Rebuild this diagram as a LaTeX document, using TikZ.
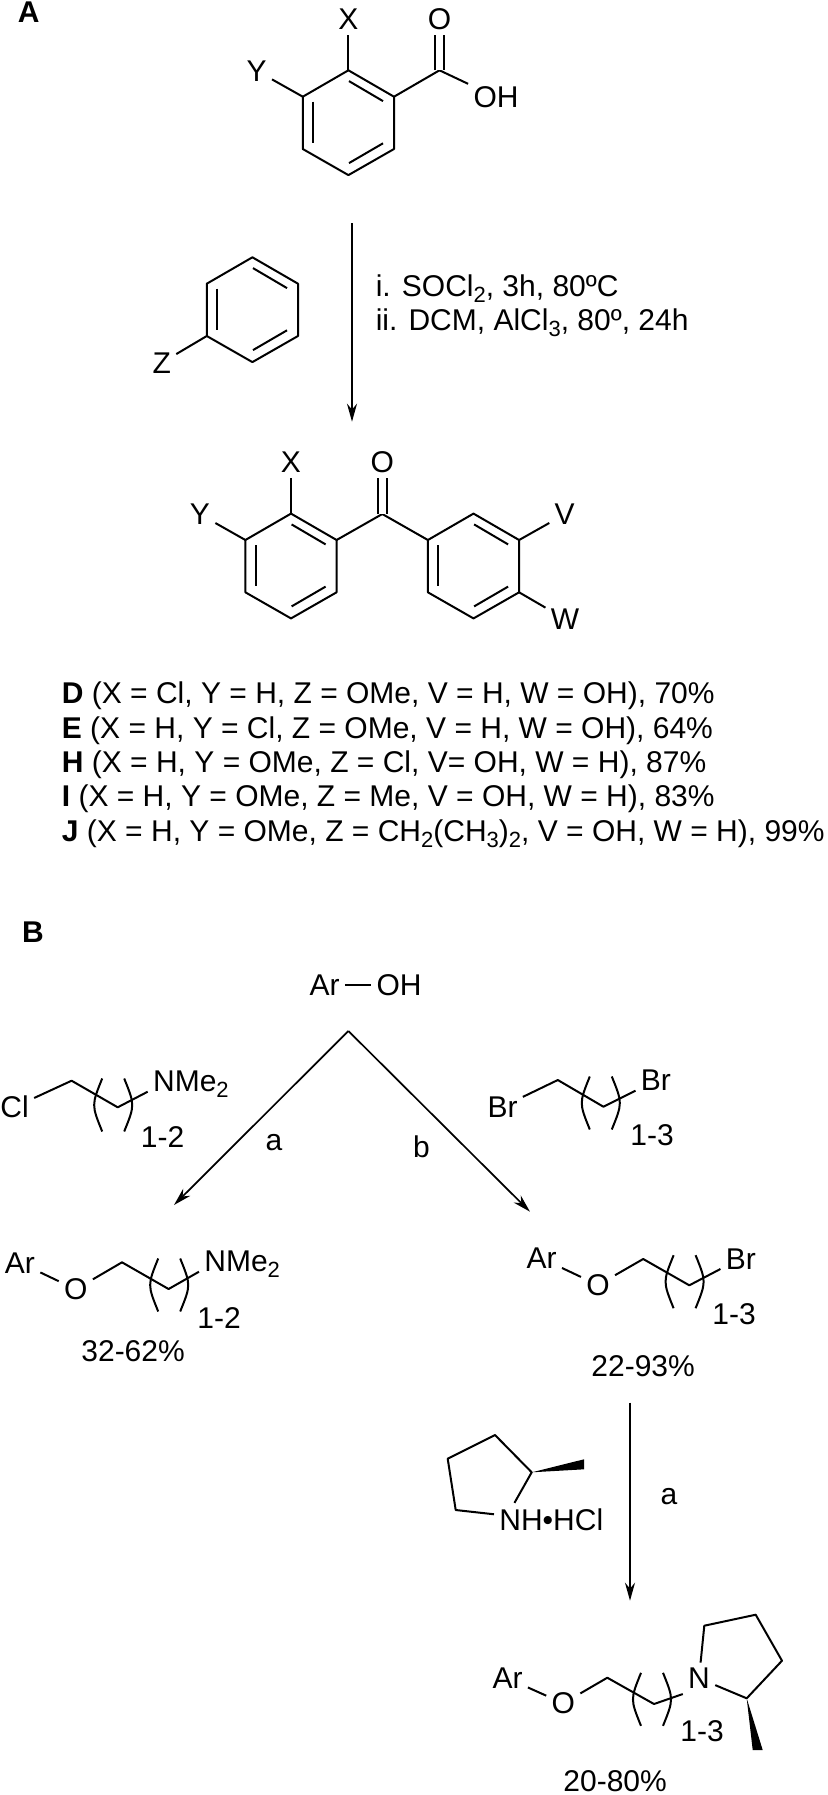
\documentclass[tikz,border=0pt]{standalone}
\usepackage{fontspec}
\setmainfont{Liberation Sans}
\usetikzlibrary{arrows.meta}
\newcommand{\chemsub}[1]{\raisebox{-3pt}{\fontsize{11}{11}\selectfont #1}}
\newcommand{\benzene}[3]{
\begin{scope}[shift={(#2,#3)}]
\coordinate (#1t) at (0,-52.4);
\coordinate (#1ru) at (45.6,-26);
\coordinate (#1rd) at (45.6,26.3);
\coordinate (#1b) at (0,52.4);
\coordinate (#1ld) at (-45.6,26.3);
\coordinate (#1lu) at (-45.6,-26);
\draw[bond] (#1t) -- (#1ru) -- (#1rd) -- (#1b) -- (#1ld) -- (#1lu) -- cycle;
\draw[bond] (0.6,-41.6) -- (34.6,-21.6);
\draw[bond] (34.6,20.6) -- (0.6,40.4);
\draw[bond] (-35.2,-21) -- (-35.2,20);
\end{scope}}
\newcommand{\repeatunit}[2]{
\begin{scope}[shift={(#1,#2)}]
\draw[bond] (-11,-26.5) .. controls (-21.7,0) .. (-11,26.5);
\draw[bond] (11,-26.5) .. controls (21.7,0) .. (11,26.5);
\end{scope}}

\begin{document}
\begin{tikzpicture}[
  x=0.5pt, y=-0.5pt,
  lbl/.style={inner sep=2.5pt, font=\fontsize{15}{18}\selectfont},
  sidelbl/.style={lbl, anchor=base west},
  txt/.style={inner sep=0pt, anchor=base west, font=\fontsize{15}{18}\selectfont},
  panel/.style={inner sep=0pt, font=\fontsize{15}{18}\selectfont\bfseries},
  bond/.style={line width=1pt, line join=round},
  rxn/.style={line width=0.85pt, -{Stealth[length=9pt, width=5pt]}}
]
\useasboundingbox (0,0) rectangle (827,1795);

\node[panel] (panelA) at (28.7,12.5) {A};
\node[panel] (panelB) at (33,932.5) {B};

\benzene{acid}{348.4}{122.7}
\node[lbl] (acidX) at (348.4,19) {X};
\node[lbl] (acidY) at (256.6,70.7) {Y};
\coordinate (acidC) at (439.5,70.3);
\node[lbl] (acidO) at (439.5,19) {O};
\node[lbl] (acidOH) at (496,97) {OH};
\draw[bond] (acidt) -- (acidX);
\draw[bond] (acidlu) -- (acidY);
\draw[bond] (acidru) -- (acidC) -- (acidOH);
\draw[bond, double, double distance=3.8pt] (acidC) -- (acidO);

\coordinate (stepAs) at (352,223);
\coordinate (stepAe) at (352,421.7);
\draw[rxn] (stepAs) -- (stepAe);
\node[txt] (condi) at (375.4,296) {i. SOCl\chemsub{2}, 3h, 80ºC};
\node[txt] (condii) at (375.4,330.7) {ii. DCM, AlCl\chemsub{3}, 80º, 24h};

\benzene{arene}{252.4}{309.7}
\node[lbl] (areneZ) at (161.7,362.7) {Z};
\draw[bond] (areneld) -- (areneZ);

\benzene{left}{291}{566}
\benzene{right}{473.5}{566}
\coordinate (ketC) at (382.3,514);
\node[lbl] (ketO) at (382.3,462.3) {O};
\node[lbl] (leftX) at (291,462.3) {X};
\node[lbl] (leftY) at (200,514.3) {Y};
\node[lbl] (rightV) at (564.7,514.3) {V};
\node[lbl] (rightW) at (565,619) {W};
\draw[bond] (leftru) -- (ketC) -- (rightlu);
\draw[bond, double, double distance=3.8pt] (ketC) -- (ketO);
\draw[bond] (leftt) -- (leftX);
\draw[bond] (leftlu) -- (leftY);
\draw[bond] (rightru) -- (rightV);
\draw[bond] (rightrd) -- (rightW);

\node[txt] (rowD) at (61.5,703.3) {\textbf{D} (X = Cl, Y = H, Z = OMe, V = H, W = OH), 70\%};
\node[txt] (rowE) at (61.5,738.3) {\textbf{E} (X = H, Y = Cl, Z = OMe, V = H, W = OH), 64\%};
\node[txt] (rowH) at (61.5,772.3) {\textbf{H} (X = H, Y = OMe, Z = Cl, V= OH, W = H), 87\%};
\node[txt] (rowI) at (61.5,806.7) {\textbf{I} (X = H, Y = OMe, Z = Me, V = OH, W = H), 83\%};
\node[txt] (rowJ) at (61.5,841.7) {\textbf{J} (X = H, Y = OMe, Z = CH\chemsub{2}(CH\chemsub{3})\chemsub{2}, V = OH, W = H), 99\%};

\node[lbl] (startAr) at (324.5,985) {Ar};
\node[lbl] (startOH) at (399,985) {OH};
\draw[bond] (startAr) -- (startOH);
\coordinate (fork) at (348.4,1031);
\coordinate (forkL) at (174,1205);
\coordinate (forkR) at (530,1211.7);
\draw[rxn] (fork) -- (forkL);
\draw[rxn] (fork) -- (forkR);
\node[lbl] (stepa) at (274,1142.7) {a};
\node[lbl] (stepb) at (421.5,1147) {b};

\node[lbl] (clCl) at (14.6,1107) {Cl};
\coordinate (clC1) at (71.6,1080.7);
\coordinate (clC2) at (117.7,1107.3);
\node[sidelbl] (clN) at (147.7,1091.7) {NMe\chemsub{2}};
\draw[bond] (clCl) -- (clC1) -- (clC2) -- (clN.base west);
\repeatunit{113.2}{1105}
\node[txt] (clN1) at (140.5,1147.3) {1-2};

\node[lbl] (brBr) at (502.5,1106.7) {Br};
\coordinate (brC1) at (557.8,1080);
\coordinate (brC2) at (603.4,1106.7);
\node[sidelbl] (brBr2) at (635.5,1090.7) {Br};
\draw[bond] (brBr) -- (brC1) -- (brC2) -- (brBr2.base west);
\repeatunit{600.8}{1103}
\node[txt] (brN1) at (630,1145.3) {1-3};

\node[lbl] (amAr) at (19.9,1262.7) {Ar};
\node[lbl] (amO) at (75.8,1289.3) {O};
\coordinate (amC1) at (122,1262.3);
\coordinate (amC2) at (168.6,1289);
\node[sidelbl] (amN) at (199,1271.7) {NMe\chemsub{2}};
\draw[bond] (amAr) -- (amO) -- (amC1) -- (amC2) -- (amN.base west);
\repeatunit{169.2}{1285}
\node[txt] (amN1) at (197,1328.3) {1-2};
\node[txt] (amYield) at (81,1361.7) {32-62\%};

\node[lbl] (beAr) at (541.6,1258.3) {Ar};
\node[lbl] (beO) at (598,1285) {O};
\coordinate (beC1) at (643.2,1259);
\coordinate (beC2) at (689.3,1285.3);
\node[sidelbl] (beBr) at (720.4,1269) {Br};
\draw[bond] (beAr) -- (beO) -- (beC1) -- (beC2) -- (beBr.base west);
\repeatunit{684.6}{1281.7}
\node[txt] (beN1) at (712,1324.3) {1-3};
\node[txt] (beYield) at (591,1376) {22-93\%};

\coordinate (stepCs) at (630,1402.7);
\coordinate (stepCe) at (630,1600.7);
\draw[rxn] (stepCs) -- (stepCe);
\node[lbl] (stepc) at (669,1497) {a};

\node[sidelbl] (amine) at (494,1530) {NH•HCl};
\coordinate (pyC2) at (531.7,1472.3);
\coordinate (pyC3) at (495,1435);
\coordinate (pyC4) at (447.7,1458.7);
\coordinate (pyC5) at (455.7,1510);
\coordinate (pyMa) at (584,1459.3);
\coordinate (pyMb) at (584,1469.3);
\draw[bond] (amine.175) -- (pyC5) -- (pyC4) -- (pyC3) -- (pyC2) -- (amine.156);
\fill (pyC2) -- (pyMa) -- (pyMb) -- cycle;

\node[lbl] (endAr) at (507.5,1678.3) {Ar};
\node[lbl] (endO) at (563.3,1703.3) {O};
\coordinate (endC1) at (607.3,1677.7);
\coordinate (endC2) at (654,1704);
\node[lbl] (endN) at (699,1678.3) {N};
\coordinate (endR2) at (746.7,1698.3);
\coordinate (endR3) at (782,1660.7);
\coordinate (endR4) at (755.7,1614.7);
\coordinate (endR5) at (704.3,1625.7);
\coordinate (endMa) at (752.7,1750);
\coordinate (endMb) at (762.7,1750);
\draw[bond] (endAr) -- (endO) -- (endC1) -- (endC2) -- (endN.south west);
\draw[bond] (endN) -- (endR5) -- (endR4) -- (endR3) -- (endR2) -- (endN);
\fill (endR2) -- (endMa) -- (endMb) -- cycle;
\repeatunit{652}{1699.3}
\node[txt] (endN1) at (680,1741.7) {1-3};
\node[txt] (endYield) at (563,1791.7) {20-80\%};
\end{tikzpicture}
\end{document}
